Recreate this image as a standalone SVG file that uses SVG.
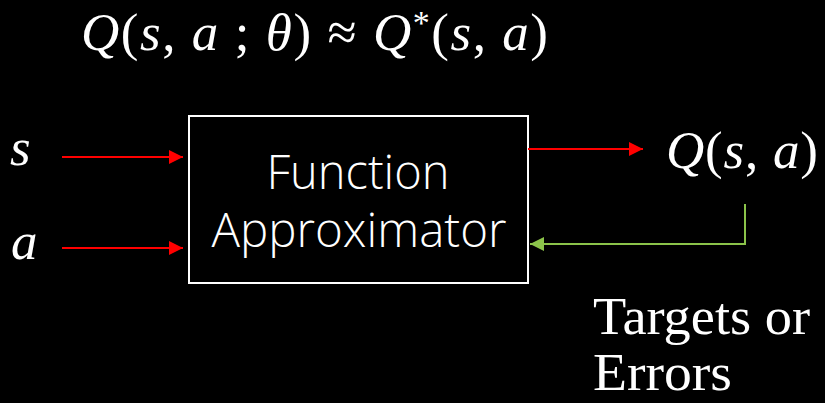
<svg xmlns="http://www.w3.org/2000/svg" width="825" height="403" viewBox="0 0 825 403">
<style>
.math{font-family:"Liberation Serif","DejaVu Serif",serif;font-style:italic;fill:#fff;font-size:53px}
.up{font-style:normal}
.lbl{font-family:"Open Sans","Noto Sans",sans-serif;font-weight:300;fill:#fff;font-size:47px}
.serif{font-family:"Liberation Serif","DejaVu Serif",serif;fill:#fff;font-size:53px}
.red{stroke:#ff0000;stroke-width:2;fill:none}
.green{stroke:#8bc34a;stroke-width:2;fill:none}
</style>
<defs>
<marker id="ar" viewBox="0 0 10 10" refX="10" refY="5" markerWidth="14" markerHeight="14" markerUnits="userSpaceOnUse" orient="auto"><path d="M0,0L10,5L0,10z" fill="#ff0000"/></marker>
<marker id="ag" viewBox="0 0 10 10" refX="10" refY="5" markerWidth="14" markerHeight="14" markerUnits="userSpaceOnUse" orient="auto"><path d="M0,0L10,5L0,10z" fill="#8bc34a"/></marker>
</defs>
<rect width="825" height="403" fill="#000"/>
<g id="title"><text class="math" x="81" y="50" textLength="467" lengthAdjust="spacing">Q<tspan class="up">(</tspan>s<tspan class="up">, </tspan>a <tspan class="up">; </tspan>θ<tspan class="up">) ≈ </tspan>Q<tspan class="up" dy="-16" font-size="34">*</tspan><tspan class="up" dy="16">(</tspan>s<tspan class="up">, </tspan>a<tspan class="up">)</tspan></text></g>
<g id="input-s"><text class="math" x="10" y="165" font-size="51">s</text></g>
<g id="input-a"><text class="math" x="11" y="259" font-size="51">a</text></g>
<g id="approximator">
<rect x="189" y="116" width="339" height="167" fill="#000" stroke="#fff" stroke-width="2"/>
<text class="lbl" x="358" y="189" text-anchor="middle">Function</text>
<text class="lbl" x="359" y="247" text-anchor="middle" textLength="295" lengthAdjust="spacingAndGlyphs">Approximator</text>
</g>
<g id="output"><text class="math" x="666" y="168" textLength="152" lengthAdjust="spacing">Q<tspan class="up">(</tspan>s<tspan class="up">, </tspan>a<tspan class="up">)</tspan></text></g>
<g id="targets"><text class="serif" x="593" y="334" textLength="217" lengthAdjust="spacingAndGlyphs">Targets or</text><text class="serif" x="593" y="390" textLength="139" lengthAdjust="spacingAndGlyphs">Errors</text></g>
<g id="connectors">
<line class="red" x1="62" y1="157" x2="183" y2="157" marker-end="url(#ar)"/>
<line class="red" x1="62" y1="248" x2="183" y2="248" marker-end="url(#ar)"/>
<line class="red" x1="528" y1="149" x2="643" y2="149" marker-end="url(#ar)"/>
<polyline class="green" points="745,204 745,244 530,244" marker-end="url(#ag)"/>
</g>
</svg>
